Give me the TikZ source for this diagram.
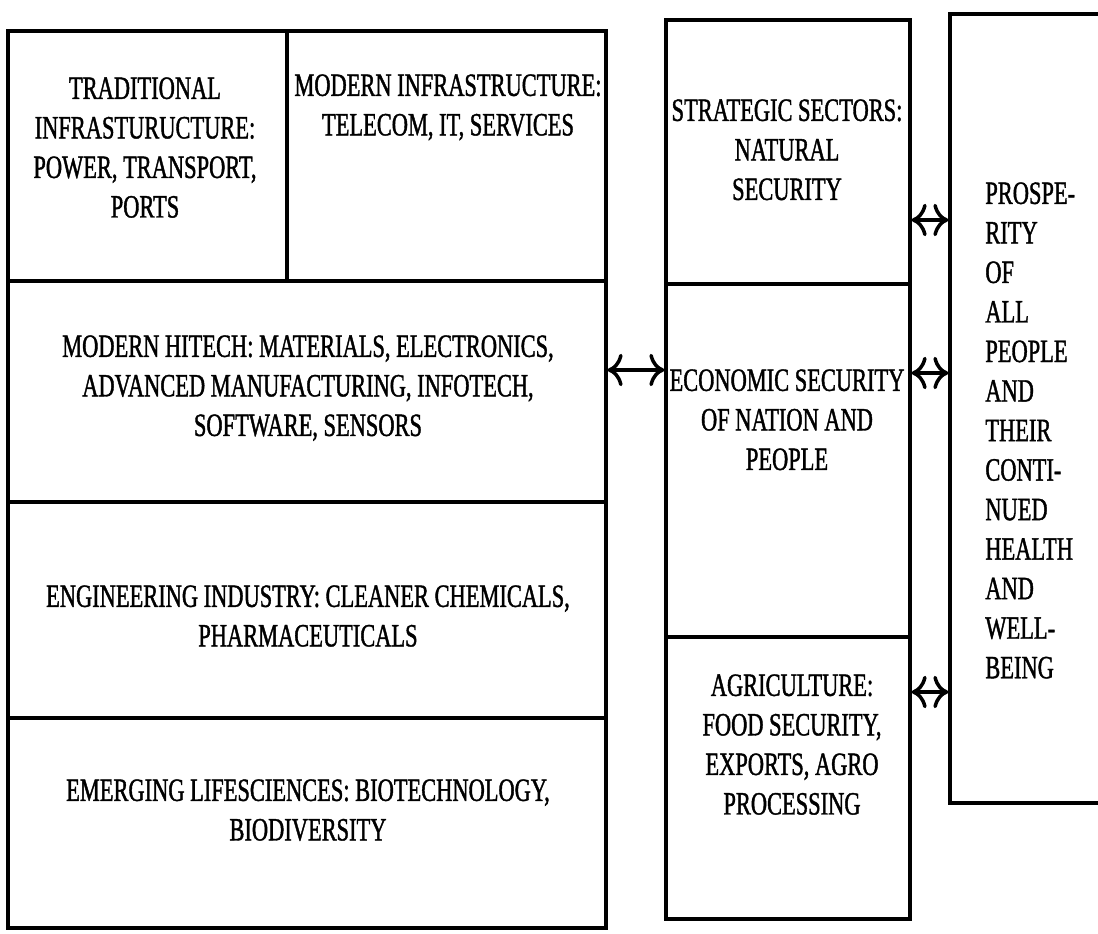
\documentclass[tikz,border=0pt]{standalone}
\usepackage{fontspec}
\setmainfont{Liberation Serif}[FakeStretch=0.69, FakeBold=1.2]
\usetikzlibrary{arrows.meta}

\tikzset{
    cell/.style={draw, line width = 1.9pt, inner sep=0pt},
    celltext/.style={anchor=north, inner sep=0pt, align=center, font=\fontsize{18.5}{22.5}\selectfont},
    biarrow/.style={{To[length=3mm,width=6.5mm]}-{To[length=3mm,width=6.5mm]}, line width = 2pt}
}

\begin{document}
\begin{tikzpicture}[x=0.02cm, y=-0.02cm]
                    \useasboundingbox (0,0) rectangle (1098,933);
                    \clip (0,0) rectangle (1098,933);
                    
                    \node[cell, minimum width=5.58cm, minimum height=5cm] (trad) at (147.5,156) {};
                    \node[cell, minimum width=6.38cm, minimum height=5cm] (modinf) at (446.5,156) {};
                    \node[cell, minimum width=11.96cm, minimum height=4.42cm] (hitech) at (307,391.5) {};
                    \node[cell, minimum width=11.96cm, minimum height=4.32cm] (engg) at (307,610) {};
                    \node[cell, minimum width=11.96cm, minimum height=4.2cm] (life) at (307,823) {};
                    
                    \node[cell, minimum width=4.88cm, minimum height=5.28cm] (strat) at (788,152) {};
                    \node[cell, minimum width=4.88cm, minimum height=7.06cm] (econ) at (788,460.5) {};
                    \node[cell, minimum width=4.88cm, minimum height=5.64cm] (agri) at (788,778) {};
                    
                    \node[cell, minimum width=3.4cm, minimum height=15.78cm] (prosp) at (1035,408.5) {};
                    
                    \node[celltext] (tradtxt) at (145,77) {TRADITIONAL\\INFRASTURUCTURE:\\POWER, TRANSPORT,\\PORTS};
                    \node[celltext] (modinftxt) at (448,74) {MODERN INFRASTRUCTURE:\\TELECOM, IT, SERVICES};
                    \node[celltext] (hitechtxt) at (308,335) {MODERN HITECH: MATERIALS, ELECTRONICS,\\ADVANCED MANUFACTURING, INFOTECH,\\SOFTWARE, SENSORS};
                    \node[celltext] (enggtxt) at (308,585) {ENGINEERING INDUSTRY: CLEANER CHEMICALS,\\PHARMACEUTICALS};
                    \node[celltext] (lifetxt) at (308,779) {EMERGING LIFESCIENCES: BIOTECHNOLOGY,\\BIODIVERSITY};
                    \node[celltext] (strattxt) at (787,99) {STRATEGIC SECTORS:\\NATURAL\\SECURITY};
                    \node[celltext] (econtxt) at (787,369) {ECONOMIC SECURITY\\OF NATION AND\\PEOPLE};
                    \node[celltext] (agritxt) at (792,674) {AGRICULTURE:\\FOOD SECURITY,\\EXPORTS, AGRO\\PROCESSING};
                    \node[celltext, anchor=north west, align=left] (prosptxt) at (985,182) {PROSPE-\\RITY\\OF\\ALL\\PEOPLE\\AND\\THEIR\\CONTI-\\NUED\\HEALTH\\AND\\WELL-\\BEING};
                    
                    \coordinate (lvlA) at (0,370);
                    \coordinate (lvlB) at (0,220);
                    \coordinate (lvlC) at (0,373);
                    \coordinate (lvlD) at (0,692);
                    
                    \draw[biarrow] (hitech.east |- lvlA) -- (econ.west |- lvlA);
                    \draw[biarrow] (strat.east |- lvlB) -- (prosp.west |- lvlB);
                    \draw[biarrow] (econ.east |- lvlC) -- (prosp.west |- lvlC);
                    \draw[biarrow] (agri.east |- lvlD) -- (prosp.west |- lvlD);
                \end{tikzpicture}
\end{document}
